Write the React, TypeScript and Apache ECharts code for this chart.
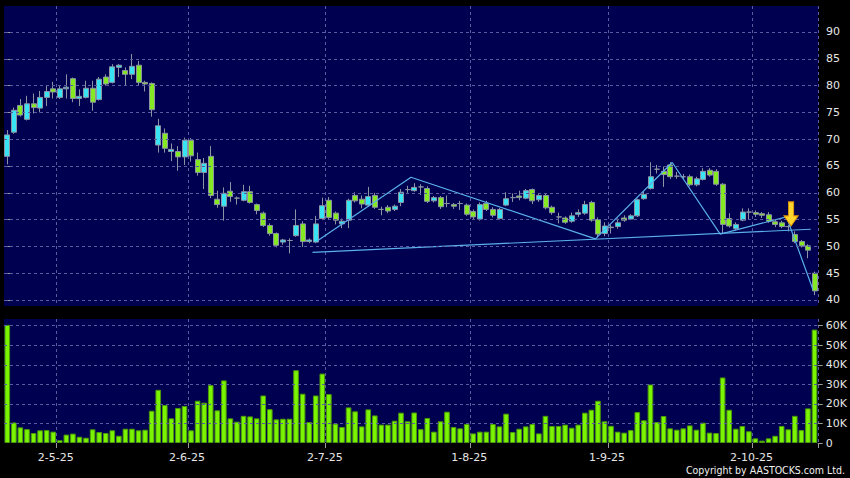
import React, { useEffect, useRef } from 'react';
import * as echarts from 'echarts';

// Trading days (month, days) 2025
const tradingMonths: [number, number[]][] = [
  [4, [17, 22, 23, 24, 25, 28, 29, 30]],
  [5, [2, 6, 7, 8, 9, 12, 13, 14, 15, 16, 19, 20, 21, 22, 23, 26, 27, 28, 29, 30]],
  [6, [2, 3, 4, 5, 6, 9, 10, 11, 12, 13, 16, 17, 18, 19, 20, 23, 24, 25, 26, 27, 30]],
  [7, [2, 3, 4, 7, 8, 9, 10, 11, 14, 15, 16, 17, 18, 21, 22, 23, 24, 25, 28, 29, 30, 31]],
  [8, [1, 4, 5, 6, 7, 8, 11, 12, 13, 14, 15, 18, 19, 20, 21, 22, 25, 26, 27, 28, 29]],
  [9, [1, 2, 3, 4, 5, 8, 9, 10, 11, 12, 15, 16, 17, 18, 19, 22, 23, 24, 25, 26, 29, 30]],
  [10, [2, 3, 6, 8, 9, 10, 13, 14, 15, 16]],
];
const categories: string[] = tradingMonths.flatMap(([m, ds]) => ds.map((d) => `${d}-${m}-25`));

const opens = [
  66.8, 71.3, 76.3, 73.7, 76.6, 75.8, 77.8, 79.4, 77.8, 79.4,
  81.3, 77.6, 77.8, 79.5, 77.4, 81.6, 80.6, 83.4, 82.8, 82.1,
  83.8, 80.6, 80.4, 68.9, 71.1, 67.7, 67.7, 66.7, 69.8, 66.2,
  63.8, 66.8, 58.8, 57.5, 60.3, 59.0, 58.6, 60.2, 57.8, 56.2,
  53.9, 52.4, 50.8, 51.1, 52.0, 54.2, 50.9, 50.8, 55.2, 58.6,
  56.2, 54.2, 54.9, 59.5, 58.8, 57.7, 59.5, 56.9, 57.3, 56.9,
  58.2, 60.6, 60.4, 61.1, 60.8, 58.5, 59.1, 58.0, 57.8, 58.0,
  57.7, 56.5, 55.1, 58.0, 56.9, 55.2, 57.7, 59.1, 59.4, 59.0,
  60.6, 58.7, 59.5, 57.3, 55.5, 55.3, 54.7, 56.0, 56.2, 58.2,
  55.0, 52.4, 53.5, 53.7, 55.3, 55.1, 55.7, 58.9, 60.8, 64.4,
  64.0, 65.2, 63.1, 63.0, 63.0, 61.5, 62.5, 64.2, 64.0, 61.6,
  55.2, 53.3, 54.9, 56.4, 56.3, 56.1, 55.9, 54.6, 54.4, 53.7,
  52.2, 50.9, 50.1, 45.0,
];
const closes = [
  70.8, 75.4, 74.5, 76.6, 75.9, 77.8, 78.9, 78.8, 79.4, 79.7,
  77.6, 78.0, 79.5, 76.9, 81.2, 80.3, 83.5, 83.8, 82.1, 83.6,
  80.6, 80.3, 75.5, 72.5, 68.3, 68.1, 66.7, 69.8, 66.9, 63.8,
  65.5, 59.5, 57.8, 59.9, 59.3, 59.0, 60.2, 58.2, 56.7, 53.9,
  52.4, 50.2, 51.2, 51.1, 53.9, 50.9, 51.2, 54.2, 57.6, 55.4,
  54.9, 54.7, 58.6, 58.5, 57.9, 59.3, 57.3, 56.9, 56.6, 57.5,
  60.1, 60.6, 61.0, 61.1, 58.4, 59.1, 57.4, 58.0, 57.5, 58.0,
  56.0, 55.5, 57.8, 56.9, 55.8, 56.9, 58.9, 59.1, 59.1, 60.4,
  58.5, 59.5, 57.2, 56.3, 55.5, 54.5, 55.7, 56.3, 57.8, 54.9,
  52.3, 53.8, 53.6, 54.4, 54.9, 55.7, 58.7, 59.7, 63.0, 64.4,
  63.4, 63.0, 63.1, 63.0, 61.5, 62.6, 64.0, 63.3, 61.6, 54.1,
  53.8, 54.1, 56.4, 56.4, 56.0, 55.8, 54.7, 54.1, 53.7, 53.7,
  50.9, 50.1, 49.3, 41.7,
];
const lows = [
  65.3, 71.0, 74.2, 73.5, 74.8, 75.0, 76.2, 77.6, 77.5, 77.6,
  76.9, 76.2, 77.6, 75.3, 77.2, 80.0, 80.4, 81.6, 80.1, 81.2,
  80.1, 78.9, 74.2, 67.5, 67.5, 65.9, 64.1, 65.2, 65.8, 63.2,
  60.7, 59.0, 57.2, 54.8, 58.3, 57.8, 58.4, 58.0, 56.0, 53.6,
  52.0, 49.8, 50.3, 48.7, 51.8, 49.9, 50.6, 50.6, 54.9, 55.1,
  54.1, 53.4, 53.4, 58.2, 57.1, 57.4, 57.0, 55.8, 56.2, 56.6,
  57.5, 60.0, 60.2, 59.6, 58.1, 58.2, 57.0, 57.3, 57.0, 56.8,
  55.7, 55.0, 54.8, 56.6, 55.4, 55.0, 57.5, 58.3, 58.6, 58.8,
  57.9, 58.3, 56.9, 55.9, 54.3, 54.2, 54.4, 55.5, 55.9, 54.6,
  51.7, 51.9, 52.4, 53.3, 54.6, 54.9, 55.5, 58.7, 60.6, 63.6,
  61.1, 62.6, 62.6, 62.5, 61.2, 61.2, 62.3, 63.0, 61.3, 52.4,
  53.5, 53.0, 54.7, 55.0, 55.5, 55.3, 54.4, 53.6, 53.4, 52.8,
  50.6, 49.8, 47.8, 40.9,
];
const highs = [
  71.7, 75.9, 77.5, 78.1, 78.5, 79.0, 80.1, 80.7, 80.1, 82.1,
  81.5, 79.3, 80.9, 80.9, 81.6, 82.1, 84.0, 84.0, 83.4, 85.9,
  84.6, 80.9, 80.6, 73.8, 72.0, 69.2, 68.7, 70.3, 70.2, 67.5,
  66.5, 68.7, 60.4, 61.0, 62.0, 59.3, 61.5, 61.3, 58.0, 56.5,
  54.3, 52.6, 51.4, 51.5, 56.9, 54.7, 51.5, 55.7, 59.1, 59.2,
  56.5, 55.2, 58.9, 60.1, 59.5, 61.1, 60.0, 57.4, 57.7, 57.8,
  60.7, 61.3, 61.8, 61.6, 61.2, 59.4, 59.4, 59.5, 58.1, 58.5,
  58.0, 56.9, 58.2, 58.5, 57.3, 57.2, 60.1, 59.9, 60.4, 60.7,
  60.8, 59.9, 59.8, 57.6, 56.3, 55.6, 56.3, 56.9, 58.5, 58.5,
  55.4, 54.5, 54.0, 55.2, 55.8, 56.0, 58.9, 60.2, 65.7, 65.2,
  64.9, 65.7, 63.9, 63.5, 63.4, 63.0, 64.6, 64.6, 64.4, 61.8,
  56.2, 54.5, 57.1, 57.1, 56.7, 56.4, 56.4, 54.9, 54.8, 54.0,
  52.8, 51.2, 50.4, 45.3,
];
// Volume in thousands
const volumes = [
  60.4, 10.5, 8.0, 7.1, 5.1, 6.5, 6.6, 5.8, 1.4, 4.3,
  4.8, 3.2, 2.7, 7.0, 5.6, 5.1, 6.5, 3.7, 7.3, 7.3,
  6.5, 6.8, 16.5, 27.2, 19.4, 12.6, 17.9, 18.9, 6.5, 21.6,
  20.6, 29.6, 16.7, 32.0, 12.6, 10.9, 13.9, 13.6, 12.6, 24.3,
  17.3, 12.1, 12.4, 12.4, 37.2, 25.2, 10.7, 24.3, 35.5, 25.0,
  9.9, 8.2, 18.2, 16.2, 8.5, 17.2, 14.1, 9.4, 9.4, 11.4,
  15.5, 11.1, 15.6, 7.1, 12.8, 5.8, 11.1, 16.0, 8.2, 7.5,
  9.7, 4.9, 5.8, 5.8, 9.7, 8.5, 15.0, 5.6, 7.3, 8.5,
  9.7, 4.9, 13.9, 8.7, 8.7, 9.4, 7.8, 9.4, 15.5, 17.0,
  21.6, 11.1, 8.8, 5.8, 5.3, 6.6, 15.8, 11.6, 29.9, 10.7,
  13.8, 7.5, 6.8, 7.5, 9.0, 6.8, 10.4, 5.3, 5.1, 33.5,
  17.0, 7.3, 8.7, 6.0, 2.4, 1.2, 2.4, 3.7, 8.7, 7.0,
  13.9, 6.6, 17.7, 58.0,
];

const priceTicks = [40, 45, 50, 55, 60, 65, 70, 75, 80, 85, 90];
const volumeTicks = [0, 10, 20, 30, 40, 50, 60];
const volumeGridValues = [10, 20, 30, 40, 50, 60];

// Drawn pattern lines (index, price)
const necklinePoints = [[46.5, 48.9], [122.4, 53.2]];
const zigzagPoints = [
  [47.2, 51.0], [61.5, 62.9], [89.6, 51.4], [101.3, 65.65],
  [108.6, 52.3], [118.7, 55.5], [122.7, 42.05],
];
const arrowPoint = [[119.4, 56.06]];

const NAVY = '#000050';
const GRID_LINE = '#5a5aa0';
const CYAN = '#38e4f4';
const GREEN = '#84e822';
const CANDLE_BORDER = '#8c94a4';
const VOL_GREEN = '#7af400';
const VOL_BORDER = '#4c9a08';
const TREND = '#5ab0ea';
const LABEL = '#e6e6e6';
const FONT = 'DejaVu Sans, sans-serif';

export default function App() {
  const ref = useRef<HTMLDivElement>(null);

  useEffect(() => {
    document.body.style.margin = '0';
    document.body.style.background = '#000';
    if (!ref.current) return;
    const chart = echarts.init(ref.current, undefined, { renderer: 'svg' });

    const monthStart = new Set<number>();
    categories.forEach((c, i) => {
      if (i > 0 && c.split('-')[1] !== categories[i - 1].split('-')[1]) monthStart.add(i);
    });
    const isMonthStart = (i: number) => monthStart.has(i);

    const gridStyle = { color: GRID_LINE, width: 1, type: [3, 3] as number[] };
    const candleData = categories.map((_, i) => [opens[i], closes[i], lows[i], highs[i]]);

    const option: any = {
      animation: false,
      backgroundColor: '#000000',
      grid: [
        { left: 4, top: 6, width: 814, height: 300, show: true, backgroundColor: NAVY, borderWidth: 0 },
        { left: 4, top: 319, width: 814, height: 124, show: true, backgroundColor: NAVY, borderWidth: 0 },
      ],
      xAxis: [
        {
          type: 'category', gridIndex: 0, data: categories, boundaryGap: true,
          axisLine: { show: false }, axisTick: { show: false }, axisLabel: { show: false },
          splitLine: { show: true, interval: isMonthStart, lineStyle: gridStyle },
        },
        {
          type: 'category', gridIndex: 1, data: categories, boundaryGap: true,
          axisLine: { show: false },
          axisTick: { show: true, interval: isMonthStart, length: 5, lineStyle: { color: '#9a9a9a' } },
          axisLabel: {
            show: true, interval: isMonthStart, color: LABEL, fontSize: 11, fontFamily: FONT,
            margin: 9, padding: [0, 8, 0, 0],
          },
          splitLine: { show: true, interval: isMonthStart, lineStyle: gridStyle },
        },
        { type: 'value', gridIndex: 0, min: -0.5, max: categories.length - 0.5, show: false },
      ],
      yAxis: [
        {
          type: 'value', gridIndex: 0, position: 'right', min: 38.88, max: 94.85,
          splitLine: { show: false }, axisLine: { show: false },
          axisTick: { show: true, length: 5, customValues: priceTicks, lineStyle: { color: '#9a9a9a' } },
          axisLabel: { customValues: priceTicks, color: LABEL, fontSize: 11, fontFamily: FONT, margin: 8 },
        },
        {
          type: 'value', gridIndex: 1, position: 'right', min: 0, max: 63.4,
          splitLine: { show: false }, axisLine: { show: false },
          axisTick: { show: true, length: 5, customValues: volumeTicks, lineStyle: { color: '#9a9a9a' } },
          axisLabel: {
            customValues: volumeTicks, color: LABEL, fontSize: 11, fontFamily: FONT, margin: 8,
            formatter: (v: number) => (v === 0 ? '0' : `${v}K`),
          },
        },
      ],
      series: [
        {
          type: 'line', xAxisIndex: 2, yAxisIndex: 0, data: [], z: 1, silent: true,
          markLine: {
            silent: true, symbol: ['none', 'none'], label: { show: false },
            lineStyle: gridStyle, emphasis: { disabled: true },
            data: priceTicks.map((v) => ({ yAxis: v })),
          },
        },
        {
          type: 'line', xAxisIndex: 1, yAxisIndex: 1, data: [], z: 1, silent: true,
          markLine: {
            silent: true, symbol: ['none', 'none'], label: { show: false },
            lineStyle: gridStyle, emphasis: { disabled: true },
            data: volumeGridValues.map((v) => ({ yAxis: v })),
          },
        },
        {
          type: 'candlestick', xAxisIndex: 0, yAxisIndex: 0, data: candleData, barWidth: 5.5, z: 3,
          itemStyle: {
            color: CYAN, color0: GREEN, borderColor: CANDLE_BORDER, borderColor0: CANDLE_BORDER,
            borderColorDoji: CANDLE_BORDER, borderWidth: 1,
          },
        },
        {
          type: 'bar', xAxisIndex: 1, yAxisIndex: 1, data: volumes, barWidth: 5.6, z: 3,
          itemStyle: { color: VOL_GREEN, borderColor: VOL_BORDER, borderWidth: 1 },
        },
        {
          type: 'line', xAxisIndex: 2, yAxisIndex: 0, data: necklinePoints, z: 4, symbol: 'none',
          lineStyle: { color: TREND, width: 1.2 }, silent: true,
        },
        {
          type: 'line', xAxisIndex: 2, yAxisIndex: 0, data: zigzagPoints, z: 4, symbol: 'none',
          lineStyle: { color: TREND, width: 1.2 }, silent: true,
        },
        {
          type: 'scatter', xAxisIndex: 2, yAxisIndex: 0, data: arrowPoint, z: 5, silent: true,
          symbol: 'path://M5,0 L11,0 L11,14 L16,14 L8,24 L0,14 L5,14 Z',
          symbolSize: [14, 24],
          itemStyle: { color: '#ffd62e', borderColor: '#e89800', borderWidth: 1, opacity: 1 },
        },
      ],
      graphic: [
        {
          type: 'text', right: 5, top: 464,
          style: {
            text: 'Copyright by AASTOCKS.com Ltd.', fill: '#f0f0f0',
            font: '10.5px "DejaVu Sans Condensed", "DejaVu Sans", sans-serif',
          },
        },
      ],
    };

    chart.setOption(option);
    return () => chart.dispose();
  }, []);

  return <div ref={ref} style={{ width: 850, height: 478 }} />;
}
